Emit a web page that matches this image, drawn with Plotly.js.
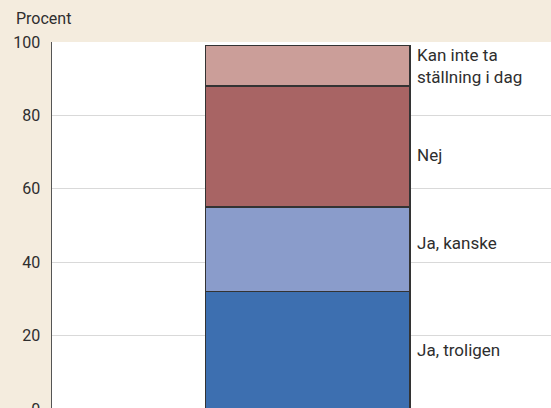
<!DOCTYPE html>
<html>
<head>
<meta charset="utf-8">
<script src="https://cdn.plot.ly/plotly-3.0.1.min.js"></script>
<style>
html,body{margin:0;padding:0;background:#F4ECDE;overflow:hidden;}
#chart{width:551px;height:430px;}
</style>
</head>
<body>
<div id="chart"></div>
<script>
// Data
const categories = ["Ja, troligen", "Ja, kanske", "Nej", "Kan inte ta<br>ställning i dag"];
const values = [32, 23, 33, 11];
const colors = ["#3D6FB0", "#8A9CCB", "#A86464", "#CB9E99"];
const yTicks = [0, 20, 40, 60, 80, 100];
const yTitle = "Procent";

const traces = categories.map((c, i) => ({
  type: "bar",
  x: [0],
  y: [values[i]],
  width: [1],
  name: c,
  marker: {color: colors[i], line: {color: "#333333", width: 1.5}},
  hoverinfo: "skip"
}));

// Label annotations at segment midpoints
const yShifts = [0, 6, -8, 0];
let cum = 0;
const annotations = categories.map((c, i) => {
  const mid = cum + values[i] / 2;
  cum += values[i];
  return {
    x: 0.5, y: mid, xref: "x", yref: "y",
    text: c, showarrow: false, xanchor: "left", yanchor: "middle",
    xshift: 5, yshift: yShifts[i], align: "left",
    font: {family: "Roboto, sans-serif", size: 17, color: "#2e2e2e"}
  };
});
annotations.push({
  x: 0, y: 1, xref: "paper", yref: "paper",
  text: yTitle, showarrow: false, xanchor: "left", yanchor: "bottom",
  xshift: -38, yshift: 12,
  font: {family: "Roboto, sans-serif", size: 16, color: "#2e2e2e"}
});

const layout = {
  width: 551, height: 430,
  margin: {l: 52, r: 0, t: 41.5, b: 20.7, pad: 0},
  paper_bgcolor: "#F4ECDE",
  plot_bgcolor: "#FFFFFF",
  barmode: "stack",
  showlegend: false,
  xaxis: {range: [-1.249, 1.189], showticklabels: false, showgrid: false, zeroline: false, showline: false, fixedrange: true},
  yaxis: {
    range: [0, 100], tickvals: yTicks, showgrid: true, gridcolor: "#D9D9D9", gridwidth: 1.2,
    zeroline: false, showline: true, linecolor: "#555555", linewidth: 1.5,
    ticks: "", ticklabelstandoff: 7,
    tickfont: {family: "Roboto, sans-serif", size: 16, color: "#2e2e2e"}
  },
  annotations: annotations
};

Plotly.newPlot("chart", traces, layout, {displayModeBar: false, staticPlot: true});
</script>
</body>
</html>
